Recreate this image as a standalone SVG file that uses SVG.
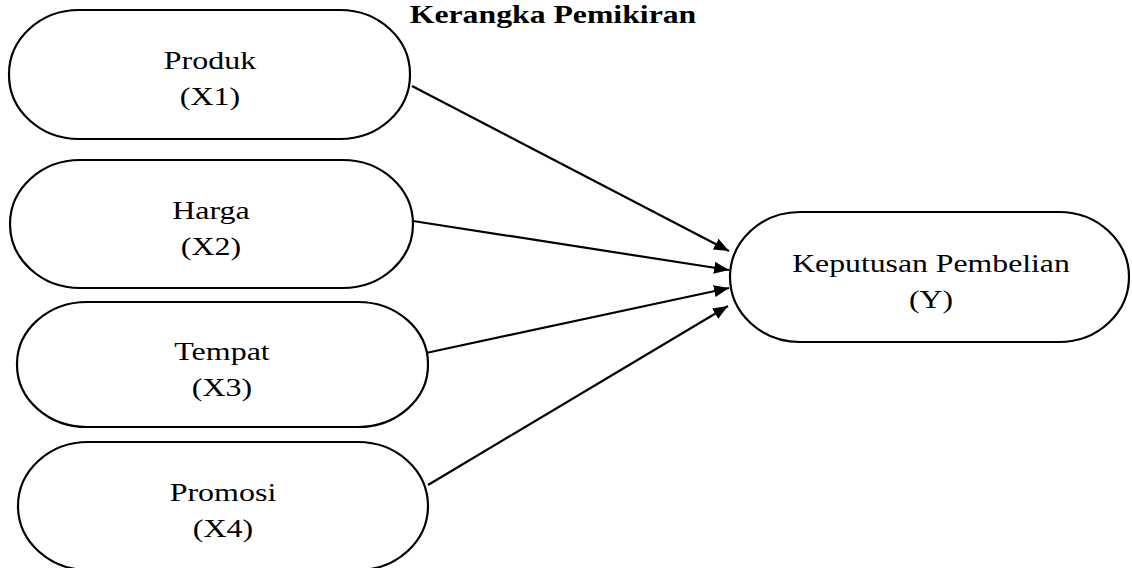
<svg xmlns="http://www.w3.org/2000/svg" width="1132" height="568" viewBox="0 0 1132 568">
<style>
.node{fill:#fff;stroke:#000;stroke-width:2.2}
.lbl{font-family:"Liberation Serif","Times New Roman",serif;font-size:25px;fill:#000;text-anchor:middle}
.title{font-family:"Liberation Serif","Times New Roman",serif;font-size:25px;font-weight:bold;fill:#000;text-anchor:middle}
.conn{stroke:#000;stroke-width:2.2;fill:none;marker-end:url(#arr)}
</style>
<defs>
<marker id="arr" markerUnits="userSpaceOnUse" markerWidth="16" markerHeight="12" refX="15" refY="6" orient="auto">
<path d="M0,0 L15,6 L0,12 z" fill="#000"/>
</marker>
</defs>
<rect width="1132" height="568" fill="#fff"/>
<text class="title" transform="translate(553,23) scale(1.27,1)">Kerangka Pemikiran</text>
<g id="connectors">
<line class="conn" x1="412" y1="86" x2="729" y2="251"/>
<line class="conn" x1="413" y1="221" x2="729" y2="270"/>
<line class="conn" x1="426" y1="353" x2="729" y2="288"/>
<line class="conn" x1="428" y1="485" x2="728" y2="306"/>
</g>
<g id="produk">
<rect class="node" x="9" y="10" width="401" height="129" rx="70" ry="64"/>
<text class="lbl" transform="translate(210,69) scale(1.28,1)">Produk</text>
<text class="lbl" transform="translate(210,105) scale(1.28,1)">(X1)</text>
</g>
<g id="harga">
<rect class="node" x="10" y="160" width="403" height="128" rx="70" ry="64"/>
<text class="lbl" transform="translate(211,219) scale(1.28,1)">Harga</text>
<text class="lbl" transform="translate(211,255) scale(1.28,1)">(X2)</text>
</g>
<g id="tempat">
<rect class="node" x="17" y="302" width="411" height="125" rx="70" ry="62"/>
<text class="lbl" transform="translate(222,360) scale(1.28,1)">Tempat</text>
<text class="lbl" transform="translate(222,396) scale(1.28,1)">(X3)</text>
</g>
<g id="promosi">
<rect class="node" x="18" y="442" width="410" height="128" rx="70" ry="64"/>
<text class="lbl" transform="translate(223,501) scale(1.28,1)">Promosi</text>
<text class="lbl" transform="translate(223,537) scale(1.28,1)">(X4)</text>
</g>
<g id="keputusan">
<rect class="node" x="730" y="212" width="399" height="130" rx="70" ry="65"/>
<text class="lbl" transform="translate(931,272) scale(1.27,1)">Keputusan Pembelian</text>
<text class="lbl" transform="translate(931,308) scale(1.27,1)">(Y)</text>
</g>
</svg>
